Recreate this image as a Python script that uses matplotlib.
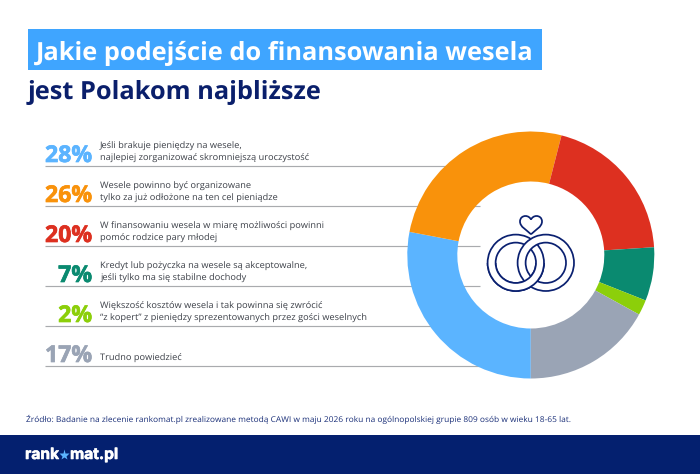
import matplotlib
matplotlib.use("Agg")
import matplotlib.pyplot as plt
import matplotlib.patheffects as pe
from matplotlib.patches import Rectangle, Annulus, PathPatch
from matplotlib.path import Path

# --- data -----------------------------------------------------------------
labels = [
    "Jeśli brakuje pieniędzy na wesele,\nnajlepiej zorganizować skromniejszą uroczystość",
    "Wesele powinno być organizowane\ntylko za już odłożone na ten cel pieniądze",
    "W finansowaniu wesela w miarę możliwości powinni\npomóc rodzice pary młodej",
    "Kredyt lub pożyczka na wesele są akceptowalne,\njeśli tylko ma się stabilne dochody",
    "Większość kosztów wesela i tak powinna się zwrócić\n\u201cz kopert\u201d z pieniędzy sprezentowanych przez gości weselnych",
    "Trudno powiedzieć",
]
values = [28, 26, 20, 7, 2, 17]
colors = ["#5BB4FF", "#F9920B", "#DD3020", "#0A8A70", "#8CCF0A", "#9AA4B5"]
title_1 = "Jakie podejście do finansowania wesela"
title_2 = "jest Polakom najbliższe"
source = "Źródło: Badanie na zlecenie rankomat.pl zrealizowane metodą CAWI w maju 2026 roku na ogólnopolskiej grupie 809 osób w wieku 18-65 lat."
brand_a, brand_b = "rank", "mat.pl"

NAVY = "#0A1F6B"
plt.rcParams["font.family"] = ["Open Sans", "DejaVu Sans"]
plt.rcParams["text.hinting"] = "no_hinting"

fig = plt.figure(figsize=(7.0, 4.74), dpi=100)
ax = fig.add_axes([0, 0, 1, 1])
H = 474
Y = lambda py: H - py

# footer
ax.add_patch(Rectangle((0, 0), 700, H - 435, fc="#04206F", ec="none", zorder=1))

# title
ax.add_patch(Rectangle((28, Y(69.5)), 514, 41, fc="#3FA5FF", ec="none", zorder=1))
ax.text(36, Y(59.5), title_1, color="white", fontsize=18.25, fontweight="bold", zorder=2)
ax.text(28, Y(99), title_2, color=NAVY, fontsize=18.25, fontweight="bold", zorder=2)

# rows
row_lines = [165.5, 205.5, 245.5, 285.5, 325.5, 365.5]
for lab, val, col, ly in zip(labels, values, colors, row_lines):
    ax.plot([45, 480], [Y(ly), Y(ly)], color="#A9ABAE", lw=0.85, zorder=1, solid_capstyle="butt")
    ax.text(92, Y(ly - 3.5), f"{val}%", color=col, fontsize=16.6, fontweight="bold", ha="right", va="baseline", zorder=2,
            path_effects=[pe.withStroke(linewidth=0.5, foreground=col)])
    parts = lab.split("\n")
    if len(parts) == 2:
        ax.text(100, Y(ly - 17), parts[0], color="#3C4048", fontsize=6.7, va="baseline", zorder=2)
        ax.text(100, Y(ly - 4.5), parts[1], color="#3C4048", fontsize=6.7, va="baseline", zorder=2)
    else:
        ax.text(100, Y(ly - 4.5), parts[0], color="#3C4048", fontsize=6.7, va="baseline", zorder=2)

# donut
cx, cy, R, r = 530.8, Y(255), 123.5, 73.5
ax.pie(values, colors=colors, startangle=270, counterclock=False, center=(cx, cy), radius=R,
       wedgeprops=dict(width=R - r, edgecolor="none", zorder=3), frame=True)

# rings icon (interlocked: right ring on top in the upper half, left ring on top in the lower half)
INK = "#0A2070"
ring_y = Y(262.8)
def ring(x, z):
    p = Annulus((x, ring_y), 28.2, 8.0, fc="white", ec=INK, lw=1.25, zorder=z)
    ax.add_patch(p)
    return p
ring(515.8, 5)
ring(545.8, 6)
top = ring(515.8, 7)
top.set_clip_path(Rectangle((480, ring_y - 40), 100, 40, transform=ax.transData))

def heart_path(x0=531):
    pts = [(0, 234.3), (-4.5, 229.8), (-11, 227), (-11, 221.5), (-11, 218), (-8.5, 216), (-5.5, 216),
           (-3, 216), (-1, 217.5), (0, 219.5), (1, 217.5), (3, 216), (5.5, 216),
           (8.5, 216), (11, 218), (11, 221.5), (11, 227), (4.5, 229.8), (0, 234.3)]
    verts = [(x0 + a, Y(b)) for a, b in pts]
    codes = [Path.MOVETO] + [Path.CURVE4] * (len(verts) - 1)
    return Path(verts, codes)
ax.add_patch(PathPatch(heart_path(), fill=False, ec=INK, lw=1.25, zorder=8))

# source + brand
ax.text(26, Y(422), source, color="#1A2F78", fontsize=6.05, va="baseline", zorder=2)
ax.text(25, Y(459), brand_a, color="white", fontsize=11.2, fontweight="bold", family="Inter", zorder=2,
        path_effects=[pe.withStroke(linewidth=0.4, foreground="white")])
ax.plot([63.6], [Y(454.5)], marker="*", ms=8, color="#5BB4FF", mec="none", zorder=2)
ax.text(70, Y(459), brand_b, color="white", fontsize=11.2, fontweight="bold", family="Inter", zorder=2,
        path_effects=[pe.withStroke(linewidth=0.4, foreground="white")])

ax.set_xlim(0, 700)
ax.set_ylim(0, H)
ax.set_aspect("auto")
ax.axis("off")
fig.savefig("out.png", dpi=100, facecolor="white")
